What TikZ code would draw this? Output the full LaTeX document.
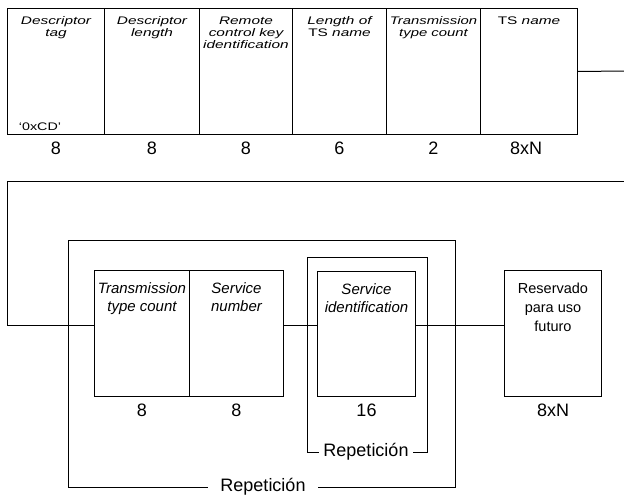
\documentclass[tikz,border=0pt]{standalone}
\usepackage{fontspec}
\usepackage{graphicx}
\setmainfont{Liberation Sans}
\newcommand\stretchtxt[2]{\scalebox{#1}[1]{\begin{tabular}{@{}c@{}}#2\end{tabular}}}
\begin{document}
\begin{tikzpicture}[x=1pt,y=-1pt,line width=1pt,
  fld/.style={draw, anchor=north west, inner sep=0pt, minimum height=126pt},
  toptxt/.style={anchor=north, align=center, inner sep=0pt,
    font=\fontsize{11}{12}\selectfont\itshape},
  bottxt/.style={anchor=north, align=center, inner sep=0pt,
    font=\fontsize{15}{18.5}\selectfont\itshape},
  num/.style={inner sep=0pt, font=\fontsize{18}{18}\selectfont},
  replbl/.style={fill=white, inner ysep=1pt, font=\fontsize{18}{18}\selectfont}]
\useasboundingbox (0,0) rectangle (624,498);
% top row
\node[fld, minimum width=97pt] (t1) at (7,8) {};
\node[fld, minimum width=95pt] (t2) at (104,8) {};
\node[fld, minimum width=93pt] (t3) at (199,8) {};
\node[fld, minimum width=94pt] (t4) at (292,8) {};
\node[fld, minimum width=94pt] (t5) at (386,8) {};
\node[fld, minimum width=97pt] (t6) at (480,8) {};
\node[toptxt] (t1x) at ([yshift=-8pt]t1.north) {\stretchtxt{1.4}{Descriptor\\tag}};
\node[toptxt] (t2x) at ([yshift=-8pt]t2.north) {\stretchtxt{1.4}{Descriptor\\length}};
\node[toptxt] (t3x) at ([yshift=-8pt]t3.north) {\stretchtxt{1.4}{Remote\\control key\\identification}};
\node[toptxt] (t4x) at ([yshift=-8pt]t4.north) {\stretchtxt{1.4}{Length of\\{\upshape TS} name}};
\node[toptxt] (t5x) at ([yshift=-8pt]t5.north) {\stretchtxt{1.35}{Transmission\\type count}};
\node[toptxt] (t6x) at ([yshift=-8pt]t6.north) {\stretchtxt{1.4}{{\upshape TS} name}};
\node[inner sep=0pt, font=\fontsize{11}{12}\selectfont] (cd) at (40,127) {\scalebox{1.3}[1]{‘0xCD’}};
\node[num] (n1) at ([yshift=-13pt]t1.south) {8};
\node[num] (n2) at ([yshift=-13pt]t2.south) {8};
\node[num] (n3) at ([yshift=-13pt]t3.south) {8};
\node[num] (n4) at ([yshift=-13pt]t4.south) {6};
\node[num] (n5) at ([yshift=-13pt]t5.south) {2};
\node[num] (n6) at ([yshift=-13pt,xshift=-3pt]t6.south) {8xN};
% bottom row
\node[fld, minimum width=95pt] (b1) at (94,270) {};
\node[fld, minimum width=94pt] (b2) at (189,270) {};
\node[fld, minimum width=98pt, minimum height=125pt] (b3) at (317,271) {};
\node[fld, minimum width=97pt] (b4) at (504,270) {};
\node[bottxt] (b1x) at ([yshift=-12pt]b1.north) {Transmission\\type count};
\node[bottxt] (b2x) at ([yshift=-12pt]b2.north) {Service\\number};
\node[bottxt] (b3x) at ([yshift=-12pt]b3.north) {Service\\identification};
\node[bottxt, font=\fontsize{14.5}{19}\selectfont] (b4x) at ([yshift=-12pt]b4.north) {Reservado\\para uso\\futuro};
\node[num] (m1) at ([yshift=-13pt]b1.south) {8};
\node[num] (m2) at ([yshift=-13pt]b2.south) {8};
\node[num] (m3) at ([yshift=-13pt]b3.south) {16};
\node[num] (m4) at ([yshift=-13pt]b4.south) {8xN};
% connectors
\coordinate (r1) at (624,71);
\coordinate (a) at (624,181);
\coordinate (b) at (7,181);
\coordinate (c) at (7,325);
\draw (t6.east) -- (r1);
\draw (a) -- (b) -- (c) -- (c -| b1.west);
\draw (b2.east |- c) -- (b3.west |- c);
\draw (b3.east |- c) -- (b4.west |- c);
% repetition brackets
\draw (68,240) rectangle (455,487);
\node[replbl, inner xsep=12pt] (rep1) at (263,487) {Repetición};
\draw (307,257) rectangle (427,452);
\node[replbl, inner xsep=4pt] (rep2) at (366,452) {Repetición};
\end{tikzpicture}
\end{document}
